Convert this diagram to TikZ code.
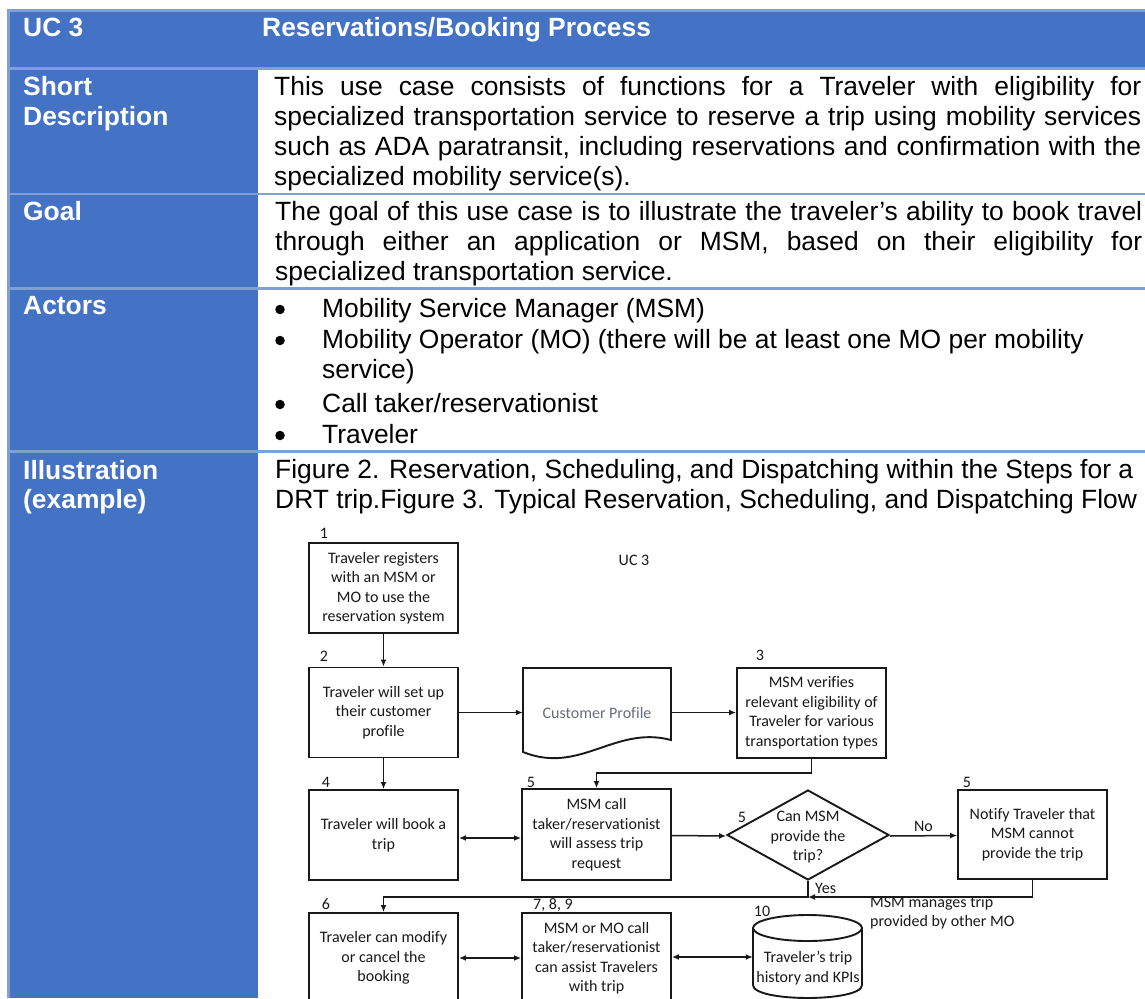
\documentclass[tikz,border=0pt]{standalone}
\usepackage{fontspec}
\setmainfont{Liberation Sans}
\newfontfamily\flowfont[Ligatures={NoCommon}]{Carlito}
\usetikzlibrary{arrows.meta,shapes.geometric}

\definecolor{hdrblue}{RGB}{68,114,196}
\definecolor{rulblue}{RGB}{128,160,212}
\definecolor{ink}{RGB}{25,25,25}
\definecolor{docgray}{RGB}{105,108,125}

\newcommand\bodyfont{\fontsize{26.4}{30.3}\selectfont}
\newcommand\flowsz{\flowfont\fontsize{16}{19.5}\selectfont}
% one justified line of a table paragraph
\newcommand\jline[1]{\hbox to 867pt{#1}}

\tikzset{
  hdr/.style={inner sep=0, anchor=base west, text=white, font=\bodyfont\bfseries},
  cell/.style={inner sep=0, anchor=base west, text=black, font=\bodyfont},
  bul/.style={fill=black, draw=none, circle, inner sep=0, minimum size=9.5pt},
  fbox/.style={draw=ink, line width=1.9pt, minimum width=149pt, minimum height=90pt,
    inner sep=2pt, align=center, font=\flowsz, text=ink},
  ftext/.style={inner sep=0, align=center, font=\flowsz, text=ink},
  num/.style={inner sep=0, font=\flowsz, text=ink},
  shapeline/.style={draw=ink, line width=1.9pt},
  tip/.tip={Latex[length=7pt,width=6pt]},
  arr/.style={draw=ink, line width=1.5pt, -tip},
  dbl/.style={draw=ink, line width=1.5pt, tip-tip},
  rule/.style={draw=rulblue, line width=2.6pt},
}

\begin{document}
\begin{tikzpicture}[x=1pt,y=-1pt]
\useasboundingbox (0,0) rectangle (1145,998);
\clip (0,0) rectangle (1145,998);
\fill[white] (0,0) rectangle (1145,998);

% ---------- table ----------
\fill[hdrblue] (10,12) rectangle (1145,67);
\fill[hdrblue] (10,67) rectangle (258,998);
\draw[rule] (7,10.5) -- (1145,10.5);
\draw[rule] (7,68.5) -- (1145,68.5);
\draw[rule] (7,194) -- (1145,194);
\draw[rule] (7,288.5) -- (1145,288.5);
\draw[rule] (7,451.5) -- (1145,451.5);
\draw[rule] (8.5,9.2) -- (8.5,998);

% left column headings
\node[hdr] (hUC) at (23,37) {UC 3};
\node[hdr] (hTitle) at (262,37) {Reservations/Booking Process};
\node[hdr] (hShort) at (23,95) {Short};
\node[hdr] (hDesc) at (23,125.3) {Description};
\node[hdr] (hGoal) at (23,220) {Goal};
\node[hdr] (hActors) at (23,314) {Actors};
\node[hdr] (hIll) at (23,479) {Illustration};
\node[hdr] (hEx) at (23,508) {(example)};

% right column contents
\node[cell] (tShort) at (274,95) {\parbox[t]{867pt}{\bodyfont
  \jline{This use case consists of functions for a Traveler with eligibility for}
  \jline{specialized transportation service to reserve a trip using mobility services}
  \jline{such as ADA paratransit, including reservations and confirmation with the}
  \hbox{specialized mobility service(s).}}};
\node[cell] (tGoal) at (275,220) {\parbox[t]{867pt}{\bodyfont
  \jline{The goal of this use case is to illustrate the traveler’s ability to book travel}
  \jline{through either an application or MSM, based on their eligibility for}
  \hbox{specialized transportation service.}}};

\node[bul] (b1dot) at (280,309.5) {};
\node[bul] (b2dot) at (280,340.5) {};
\node[bul] (b3dot) at (280,404.5) {};
\node[bul] (b4dot) at (280,435.5) {};
\node[cell] (a1) at (322,317) {Mobility Service Manager (MSM)};
\node[cell] (a2) at (322,348) {Mobility Operator (MO) (there will be at least one MO per mobility};
\node[cell] (a2b) at (322,378) {service)};
\node[cell] (a3) at (322,412) {Call taker/reservationist};
\node[cell] (a4) at (322,443) {Traveler};

\node[cell] (cap1) at (275,478) {Figure 2. Reservation, Scheduling, and Dispatching within the Steps for a};
\node[cell] (cap2) at (275,508) {DRT trip.Figure 3. Typical Reservation, Scheduling, and Dispatching Flow};

% ---------- flowchart ----------
\node[num] (ucl) at (634,560) {UC 3};

\node[fbox] (reg) at (383.5,588) {Traveler registers\\with an MSM or\\MO to use the\\reservation system};
\node[num] (n1) at (324,533) {1};

\node[fbox] (setup) at (383.5,712.5) {Traveler will set up\\their customer\\profile};
\node[num] (n2) at (324,656) {2};

% customer profile document shape
\node[inner sep=0, minimum width=148pt, minimum height=90pt, font=\flowsz, text=docgray] (prof) at (597,712.5) {Customer Profile};
\draw[shapeline] (523,752) -- (523,668) -- (671,668) -- (671,740)
  .. controls (615,725) and (580,775) .. cycle;

\node[fbox] (verify) at (811.5,713) {MSM verifies\\relevant eligibility of\\Traveler for various\\transportation types};
\node[num] (n3) at (760,655) {3};

\node[fbox] (book) at (383.5,835) {Traveler will book a\\trip};
\node[num] (n4) at (326,782) {4};

\node[fbox, minimum height=91pt] (assess) at (596.5,834.5) {MSM call\\taker/reservationist\\will assess trip\\request};
\node[num] (n5a) at (531,782) {5};

\node[diamond, draw=ink, line width=1.9pt, minimum width=162pt, minimum height=90pt, inner sep=0] (can) at (808,835) {};
\node[ftext] (cant) at (808,837.5) {Can MSM\\provide the\\trip?};
\node[num] (n5b) at (742,817) {5};

\node[fbox, minimum height=89pt] (notify) at (1032.5,834.5) {Notify Traveler that\\MSM cannot\\provide the trip};
\node[num] (n5c) at (967,782) {5};

\node[fbox] (modify) at (383.5,958) {Traveler can modify\\or cancel the\\booking};
\node[num] (n6) at (326,904) {6};

\node[fbox] (assist) at (596.5,958) {MSM or MO call\\taker/reservationist\\can assist Travelers\\with trip};
\node[num, anchor=west] (n789) at (533,905) {7, 8, 9};

% trip history database
\node[inner sep=0, minimum width=109pt, minimum height=83pt] (hist) at (807.5,956.5) {};
\draw[shapeline] (753,928) -- (753,985) .. controls (753,1002.3) and (862,1002.3) .. (862,985) -- (862,928);
\draw[shapeline] (807.5,928) ellipse [x radius=54.5, y radius=13];
\node[ftext] (histt) at (808,968) {Traveler’s trip\\history and KPIs};
\node[num] (n10) at (762,911) {10};

% connectors
\draw[arr] (reg.south) -- (setup.north);
\draw[arr] (setup.east) -- (prof.west);
\draw[arr] (prof.east) -- (prof.east -| verify.west);
\coordinate (vturn) at (811.5,773);
\draw[arr] (verify.south) -- (vturn) -| (assess.north);
\draw[arr] (setup.south) -- (book.north);
\draw[dbl] ([yshift=-3pt]book.east) -- ([yshift=-3pt]book.east -| assess.west);
\draw[arr] ([yshift=-1pt]assess.east) -- ([yshift=-1pt]can.west);
\draw[arr] ([yshift=-1pt]can.east) -- node[num, above=3pt] (no) {No} ([yshift=-1pt]notify.west);
\coordinate (join) at (808,897);
\draw[arr] (can.south) -- (join) -| (modify.north);
\draw[arr] (notify.south) |- (join);
\node[num, anchor=west] (yes) at (815,888) {Yes};
\node[ftext, align=left, anchor=north west] (mgd) at (870,896) {MSM manages trip\\provided by other MO};
\draw[dbl] (modify.east) -- (assist.west);
\draw[dbl] ([yshift=1pt]assist.east) -- ([yshift=1pt]assist.east -| hist.west);
\end{tikzpicture}
\end{document}
